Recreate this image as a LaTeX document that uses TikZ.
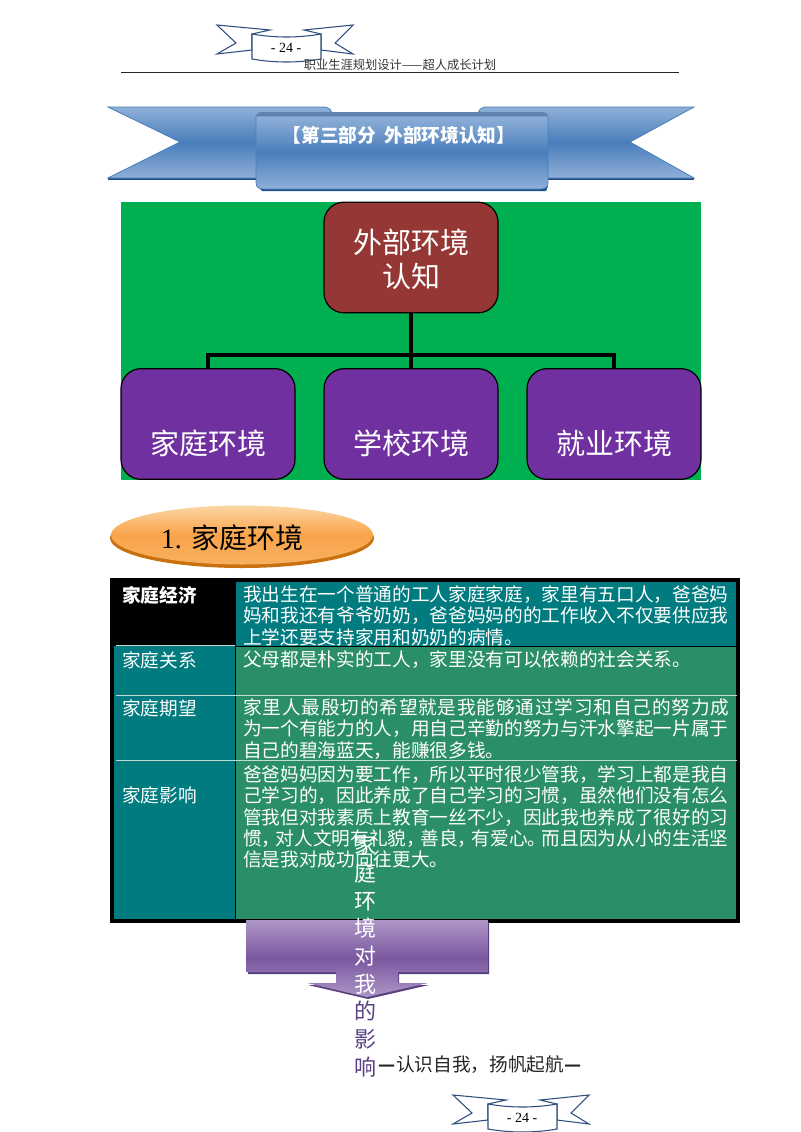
\documentclass[tikz,border=0pt]{standalone}
\usepackage{fontspec}
\setmainfont{Liberation Serif}
\newfontfamily\cjk{Noto Sans CJK SC}
\newfontfamily\cjkwide[LetterSpace=4.3]{Noto Sans CJK SC}
\usetikzlibrary{shapes.geometric}
\definecolor{chartgreen}{HTML}{00B050}
\definecolor{chartred}{HTML}{953735}
\definecolor{chartpurple}{HTML}{7030A0}
\definecolor{cellteal}{HTML}{007B7F}
\definecolor{cellgreen}{HTML}{2A8F68}
\definecolor{ribbonblue}{HTML}{4A7EBB}
\definecolor{ribbonlight}{HTML}{8FB0D8}
\definecolor{ribbondark}{HTML}{1F4E85}
\definecolor{smallblue}{HTML}{2F4F7F}
\definecolor{ovaltop}{HTML}{FBD6A4}
\definecolor{ovalmid}{HTML}{F9A44A}
\definecolor{ovalbottom}{HTML}{F8B060}
\definecolor{ovaldark}{HTML}{C9700F}
\definecolor{arrowlight}{HTML}{AD96C6}
\definecolor{arrowmid}{HTML}{7A58A0}
\definecolor{arrowdark}{HTML}{5A4080}
\tikzset{
  chartbox/.style={draw=black,line width=0.9pt,rounded corners=15pt,minimum width=130.5pt,text=white,align=center},
  charttext/.style={text=white,font=\cjk\fontsize{21.75}{25.5}\selectfont,align=center,inner sep=0pt},
  tiebar/.style={draw=black,line width=2.6pt},
  celltext/.style={anchor=north west,inner sep=0pt,text=white,align=left,font=\cjk\fontsize{14}{16.1}\selectfont},
  sidetext/.style={anchor=north west,inner sep=0pt,text=white,font=\cjk\fontsize{14}{16.1}\selectfont},
  ribbon/.style={shade,top color=ribbonlight,bottom color=ribbonlight,middle color=ribbonblue,draw=ribbonblue,line width=0.6pt},
  tagribbon/.style={fill=white,draw=smallblue,line width=0.8pt},
  rowline/.style={draw=white!70!cellgreen,line width=0.8pt}
}
\begin{document}
\begin{tikzpicture}[x=0.75pt,y=-0.75pt]
  \useasboundingbox (0,0) rectangle (800,1132);
  % page number tags
  \foreach \dx/\dy/\tagname in {0/0/tagtop,236/1070/tagbottom} {
    \begin{scope}[shift={(\dx,\dy)}]
      \draw[tagribbon] (252,34) -- (270,30) -- (217,25) -- (236,43) -- (217,54) -- (252,50) -- cycle;
      \draw[tagribbon] (321,34) -- (304,30) -- (353,25) -- (335,43) -- (353,54) -- (321,50) -- cycle;
      \draw[tagribbon] (252,34) .. controls (275,38) and (298,38) .. (321,34) -- (321,59)
        .. controls (298,63) and (275,63) .. (252,59) -- cycle;
      \node[inner sep=0pt,font=\fontsize{10.5}{12}\selectfont] (\tagname) at (286,48) {- 24 -};
    \end{scope}
  }
  % header
  \node[inner sep=0pt,font=\cjk\fontsize{9.2}{11}\selectfont,text=black!80] (headtext) at (400,64.5) {职业生涯规划设计——超人成长计划};
  \coordinate (rulel) at (121,72.5);
  \coordinate (ruler) at (679,72.5);
  \draw[line width=0.9pt,black!85] (rulel) -- (ruler);
  % big ribbon
  \fill[ribbondark] (108,178) -- (256,178) -- (256,180) -- (108,180) -- cycle;
  \fill[ribbondark] (548,178) -- (694,178) -- (694,180) -- (548,180) -- cycle;
  \path[ribbon] (108,107) -- (322,107) .. controls (330,107) and (332,110) .. (332,116) -- (332,178)
    -- (108,178) -- (180,142) -- cycle;
  \path[ribbon] (694,107) -- (488,107) .. controls (480,107) and (478,110) .. (478,116) -- (478,178)
    -- (694,178) -- (630,142) -- cycle;
  \fill[ribbondark] (258,186) -- (548,186) -- (546,191) -- (262,191) -- cycle;
  \fill[black!20!ribbonblue!80!white] (256,118) .. controls (256,113) and (258,112) .. (264,112) -- (540,112)
    .. controls (546,112) and (548,113) .. (548,118) -- cycle;
  \path[ribbon] (256,116) -- (548,116) -- (548,182) .. controls (548,187) and (546,189) .. (540,189)
    -- (264,189) .. controls (258,189) and (256,187) .. (256,182) -- cycle;
  \node[inner sep=0pt,text=white,font=\cjk\bfseries\fontsize{14}{16}\selectfont] (ribbontext) at (399,135) {【第三部分 \ 外部环境认知】};
  % chart
  \fill[chartgreen] (121,202) rectangle (701,480);
  \node[chartbox,fill=chartred,minimum height=83pt] (outside) at (411,257.5) {};
  \node[charttext] (outsidetext) at (411,259) {外部环境\\认知};
  \node[chartbox,fill=chartpurple,minimum height=83pt] (family) at (208,424) {};
  \node[chartbox,fill=chartpurple,minimum height=83pt] (school) at (411,424) {};
  \node[chartbox,fill=chartpurple,minimum height=83pt] (career) at (614,424) {};
  \node[charttext] (familytext) at (208,443) {家庭环境};
  \node[charttext] (schooltext) at (411,443) {学校环境};
  \node[charttext] (careertext) at (614,443) {就业环境};
  \coordinate (tie) at (411,355);
  \draw[tiebar] (outside.south) -- (tie);
  \draw[tiebar] (family.north) |- (tie);
  \draw[tiebar] (school.north) -- (tie);
  \draw[tiebar] (career.north) |- (tie);
  % orange ellipse
  \fill[ovaldark] (242,538) ellipse (132 and 30);
  \shade[top color=ovaltop,bottom color=ovalbottom,middle color=ovalmid] (242,535) ellipse (131 and 29.5);
  \node[inner sep=0pt,font=\fontsize{21}{25}\selectfont] (hometitle) at (232,538) {1. {\cjk 家庭环境}};
  % table
  \fill[cellteal] (111,579) rectangle (739,922);
  \fill[black] (111,579) rectangle (235,646);
  \fill[cellgreen] (235,646) rectangle (739,920);
  \draw[black,line width=2.6pt] (112,580) rectangle (738,921);
  \draw[black,line width=0.7pt] (235,581) -- (235,920);
  \draw[black,line width=0.7pt] (235,646.5) -- (737,646.5);
  \draw[rowline] (116,645.5) -- (235,645.5);
  \draw[rowline] (116,695.5) -- (737,695.5);
  \draw[rowline] (116,760.5) -- (737,760.5);
  \node[sidetext,font=\cjk\bfseries\fontsize{14}{16.1}\selectfont] (economy) at (122,586) {家庭经济};
  \node[sidetext] (relation) at (122,651) {家庭关系};
  \node[sidetext] (hope) at (122,699) {家庭期望};
  \node[sidetext] (effect) at (122,786) {家庭影响};
  \node[celltext] (economytext) at (243,585) {我出生在一个普通的工人家庭家庭，家里有五口人，爸爸妈\\妈和我还有爷爷奶奶，爸爸妈妈的的工作收入不仅要供应我\\上学还要支持家用和奶奶的病情。};
  \node[celltext] (relationtext) at (243,650) {父母都是朴实的工人，家里没有可以依赖的社会关系。};
  \node[celltext] (hopetext) at (243,698) {{\cjkwide 家里人最殷切的希望就是我能够通过学习和自己的努力成}\\为一个有能力的人，用自己辛勤的努力与汗水擎起一片属于\\自己的碧海蓝天，能赚很多钱。};
  \node[celltext] (effecttext) at (243,765) {爸爸妈妈因为要工作，所以平时很少管我，学习上都是我自\\己学习的，因此养成了自己学习的习惯，虽然他们没有怎么\\管我但对我素质上教育一丝不少，因此我也养成了很好的习\\惯，\hspace{-.25em}对人文明有礼貌，\hspace{-.25em}善良，\hspace{-.25em}有爱心。\hspace{-.25em}而且因为从小的生活坚\\信是我对成功向往更大。};
  % arrow
  \fill[arrowdark] (248,922) -- (489,922) -- (489,974) -- (399,974) -- (399,985) -- (429,985)
    -- (368,999) -- (308,985) -- (337,985) -- (337,974) -- (248,974) -- cycle;
  \shade[top color=arrowlight,bottom color=arrowlight,middle color=arrowmid] (246,920) -- (488,920) -- (488,972) -- (398,972) -- (398,983) -- (428,983)
    -- (367,997) -- (307,983) -- (336,983) -- (336,972) -- (246,972) -- cycle;
  \node[inner sep=0pt,align=center,font=\cjk\fontsize{16.5}{20.8}\selectfont] (arrowtext) at (365,956) {\color{white}家\\\color{white}庭\\\color{white}环\\\color{white}境\\\color{white}对\\\color{white}我\\\color{arrowdark}的\\\color{arrowdark}影\\\color{arrowdark}响};
  \node[inner sep=0pt,font=\cjk\fontsize{14}{16}\selectfont,text=black!85] (motto) at (480,1065) {\textbf{—}认识自我，扬帆起航\textbf{—}};
\end{tikzpicture}
\end{document}
